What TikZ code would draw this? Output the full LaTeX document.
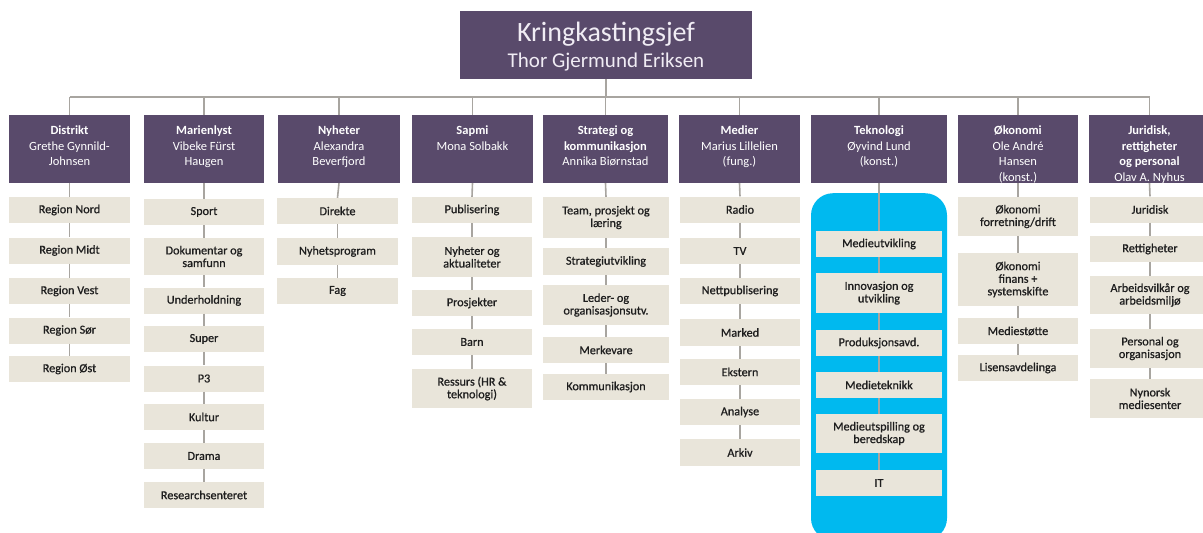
\documentclass[tikz,border=0pt]{standalone}
\usepackage{fontspec}
\setmainfont{Carlito}
\newfontfamily\unitfont[FakeBold=0.8]{Carlito}
\definecolor{headpurple}{HTML}{594A6B}
\definecolor{unitbeige}{HTML}{E9E5DA}
\definecolor{techblue}{HTML}{00B9EF}
\definecolor{linegray}{HTML}{A8A5A0}
\definecolor{titlewhite}{HTML}{F0ECF4}
\definecolor{unittext}{HTML}{1E1E1E}

\tikzset{
  topbox/.style={fill=headpurple, draw=none, minimum width=292pt, minimum height=68pt,
    inner sep=0pt},
  titletext/.style={inner sep=0pt, text=titlewhite, anchor=base},
  headbox/.style={fill=headpurple, draw=none, minimum height=68pt, inner sep=0pt},
  headtext/.style={inner sep=0pt, align=center, text=white,
    font=\fontsize{12.5}{15.5}\selectfont},
  unit/.style={fill=unitbeige, draw=none, inner sep=0pt, align=center, text=unittext,
    font=\unitfont\fontsize{12.2}{12.6}\selectfont},
  conn/.style={draw=linegray, line width=1.6pt},
}

% One column of units below a department head named #10
\newcommand{\orgcolumn}[4]{%
  \foreach \ypos/\hgt/\lbl [count=\idx, remember=\idx as \prev (initially 0)] in {#4} {
    \node[unit, minimum width=#3, minimum height=\hgt] (#1\idx) at (#2,\ypos) {\lbl};
    \draw[conn] (#1\prev.south) -- (#1\idx.north);
  }%
}

\begin{document}
\begin{tikzpicture}[x=1pt, y=-1pt]
\useasboundingbox (0,0) rectangle (1203,533);
\clip (0,0) rectangle (1203,533);

% chief
\node[topbox] (top) at (606,45) {};
\node[titletext, font=\fontsize{28}{28}\selectfont] (title1) at (606,41) {Kringkastingsjef};
\node[titletext, font=\fontsize{21}{21}\selectfont] (title2) at (606,67) {Thor Gjermund Eriksen};

% technology panel behind its units
\node[fill=techblue, draw=none, rounded corners=22pt, minimum width=136pt,
  minimum height=347pt, inner sep=0pt, anchor=north] (techpanel) at (879,193) {};

% department heads
\node[headbox, minimum width=121pt] (d0) at (69.5,149) {};
\node[headbox, minimum width=120pt] (m0) at (204,149) {};
\node[headbox, minimum width=122pt] (n0) at (339,149) {};
\node[headbox, minimum width=121pt] (s0) at (472.5,149) {};
\node[headbox, minimum width=125pt] (k0) at (605.5,149) {};
\node[headbox, minimum width=121pt] (p0) at (739.5,149) {};
\node[headbox, minimum width=136pt] (t0) at (879,149) {};
\node[headbox, minimum width=120pt] (o0) at (1018,149) {};
\node[headbox, minimum width=121pt] (j0) at (1149.5,149) {};

\node[headtext, anchor=north] (d0t) at (69.5,126) {\textbf{Distrikt}\\Grethe Gynnild-\\Johnsen};
\node[headtext, anchor=north] (m0t) at (204,126) {\textbf{Marienlyst}\\Vibeke Fürst\\Haugen};
\node[headtext, anchor=north] (n0t) at (339,126) {\textbf{Nyheter}\\Alexandra\\Beverfjord};
\node[headtext, anchor=north] (s0t) at (472.5,126) {\textbf{Sapmi}\\Mona Solbakk};
\node[headtext, anchor=north] (k0t) at (605.5,126) {\textbf{Strategi og}\\\textbf{kommunikasjon}\\Annika Biørnstad};
\node[headtext, anchor=north] (p0t) at (739.5,126) {\textbf{Medier}\\Marius Lillelien\\(fung.)};
\node[headtext, anchor=north] (t0t) at (879,126) {\textbf{Teknologi}\\Øyvind Lund\\(konst.)};
\node[headtext, anchor=north] (o0t) at (1018,126) {\textbf{Økonomi}\\Ole André\\Hansen\\(konst.)};
\node[headtext, anchor=north] (j0t) at (1149.5,126) {\textbf{Juridisk,}\\\textbf{rettigheter}\\\textbf{og personal}\\Olav A. Nyhus};

% tree connectors
\coordinate (bar) at (606,97);
\draw[conn] (top.south) -- (top.south |- bar);
\draw[conn] (d0.north |- bar) -- (j0.north |- bar);
\foreach \h in {d0,m0,n0,s0,k0,p0,t0,o0,j0}
  \draw[conn] (\h.north) -- (\h.north |- bar);

% units
\orgcolumn{d}{69.5}{121pt}{210/26/Region Nord, 250.5/26/Region Midt, 291/26/Region Vest,
  330.5/26/Region Sør, 369/26/Region Øst}
\orgcolumn{m}{204}{120pt}{212/26/Sport, 256.5/37/{Dokumentar og\\samfunn},
  300.5/26/Underholdning, 339/26/Super, 378.5/26/P3, 417/26/Kultur, 456/26/Drama,
  495/26/Researchsenteret}
\orgcolumn{n}{337.5}{121pt}{211/26/Direkte, 251.5/27/Nyhetsprogram, 291/26/Fag}
\orgcolumn{s}{472}{120pt}{210/26/Publisering, 257/40/{Nyheter og\\aktualiteter},
  303/26/Prosjekter, 342/26/Barn, 388.5/39/{Ressurs (HR \&\\teknologi)}}
\orgcolumn{k}{606}{126pt}{217.5/41/{Team, prosjekt og\\læring}, 261.5/27/Strategiutvikling,
  305/40/{Leder- og\\organisasjonsutv.}, 350/26/Merkevare, 387/26/Kommunikasjon}
\orgcolumn{p}{740}{120pt}{209.5/26/Radio, 251/26/TV, 291/26/Nettpublisering,
  332.5/27/Marked, 372/26/Ekstern, 412/26/Analyse, 452.5/27/Arkiv}
\orgcolumn{t}{879}{126pt}{244/26/Medieutvikling, 293/40/{Innovasjon og\\utvikling},
  343/26/Produksjonsavd., 385/26/Medieteknikk, 433.5/39/{Medieutspilling og\\beredskap},
  483/26/IT}
\orgcolumn{o}{1018}{120pt}{216.5/39/{Økonomi\\forretning/drift},
  279.5/53/{Økonomi\\finans +\\systemskifte}, 331/26/Mediestøtte, 368/26/Lisensavdelinga}
\orgcolumn{j}{1150}{120pt}{209.5/26/Juridisk, 249/26/Rettigheter,
  295/38/{Arbeidsvilkår og\\arbeidsmiljø}, 348.5/39/{Personal og\\organisasjon},
  398.5/39/{Nynorsk\\mediesenter}}
\end{tikzpicture}
\end{document}
